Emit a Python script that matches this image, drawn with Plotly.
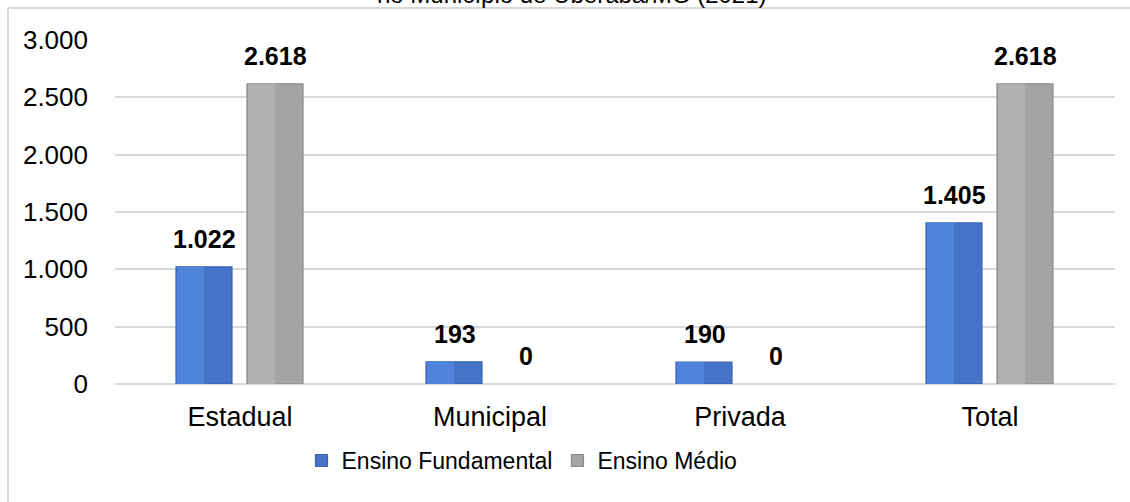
import plotly.graph_objects as go

categorias = ["Estadual", "Municipal", "Privada", "Total"]
fundamental = [1022, 193, 190, 1405]
medio = [2618, 0, 0, 2618]
titulo = "no Município de Uberaba/MG (2021)"

FONT = "Liberation Sans, Arial, sans-serif"
GRID = "#D9D9D9"
BAR_W = 0.224                 # bar width, in category units
OFF_F, OFF_M = -0.256, 0.028  # left edge of each series, relative to the category


def fmt(v):
    """Thousands with a dot, Brazilian style"""
    return f"{v:,}".replace(",", ".")


fig = go.Figure()
series = [
    ("Ensino Fundamental", fundamental, OFF_F, "#4573C7", "#5083DA", "#3A64B2"),
    ("Ensino Médio", medio, OFF_M, "#A4A4A4", "#B0B0B0", "#8A8A8A"),
]
for name, vals, off, dark, light, edge in series:
    # full bar (shaded right half)
    fig.add_trace(go.Bar(
        x=categorias, y=vals, name=name, offset=off, width=BAR_W,
        marker=dict(color=dark,
                    line=dict(color=edge, width=[1.2 if v else 0 for v in vals])),
    ))
    # lighter left half, for the bevelled look
    fig.add_trace(go.Bar(
        x=categorias, y=vals, name=name, offset=off + 0.004, width=BAR_W / 2 - 0.004,
        marker=dict(color=light, line=dict(width=0)), showlegend=False,
        hoverinfo="skip",
    ))

# data labels above each bar
for vals, shift in ((fundamental, -35.5), (medio, 35.5)):
    for cat, v in zip(categorias, vals):
        fig.add_annotation(
            x=cat, y=v, text=f"<b>{fmt(v)}</b>", showarrow=False,
            xshift=shift, yshift=12, yanchor="bottom",
            font=dict(family=FONT, size=25, color="#000000"),
        )

# title, partly cut off by the top edge
fig.add_annotation(
    xref="paper", yref="paper", x=0.457, y=1.0, yshift=30,
    text=titulo, showarrow=False, yanchor="bottom",
    font=dict(family=FONT, size=24, color="#000000"),
)

# chart frame (top and left edges)
fig.add_shape(type="line", xref="paper", yref="paper", x0=-0.107, x1=1.02,
              y0=1.093, y1=1.093, line=dict(color=GRID, width=2))
fig.add_shape(type="line", xref="paper", yref="paper", x0=-0.107, x1=-0.107,
              y0=1.093, y1=-0.4, line=dict(color=GRID, width=2))

fig.update_layout(
    width=1130, height=502,
    margin=dict(l=115, r=15, t=40, b=118, autoexpand=False),
    paper_bgcolor="white", plot_bgcolor="white",
    separators=",.",
    barmode="overlay",
    font=dict(family=FONT, size=24, color="#000000"),
    legend=dict(orientation="h", x=0.407, xanchor="center", y=-0.16, yanchor="top",
                font=dict(family=FONT, size=23, color="#000000")),
    showlegend=True,
)
fig.update_xaxes(showline=False, showgrid=False, ticks="", automargin=False,
                 ticklabelstandoff=14,
                 tickfont=dict(family=FONT, size=27, color="#000000"))
fig.update_yaxes(range=[0, 3000], dtick=500, tickformat=",d", automargin=False,
                 showgrid=True, gridcolor=GRID, gridwidth=1.5,
                 zeroline=True, zerolinecolor=GRID, zerolinewidth=1.5,
                 ticks="", ticklabelstandoff=26,
                 tickfont=dict(family=FONT, size=26, color="#000000"))

# drop the page's default body margin so the figure fills the window
fig.write_html("out.html", config={"displayModeBar": False},
               post_script="document.body.style.margin='0px';")
